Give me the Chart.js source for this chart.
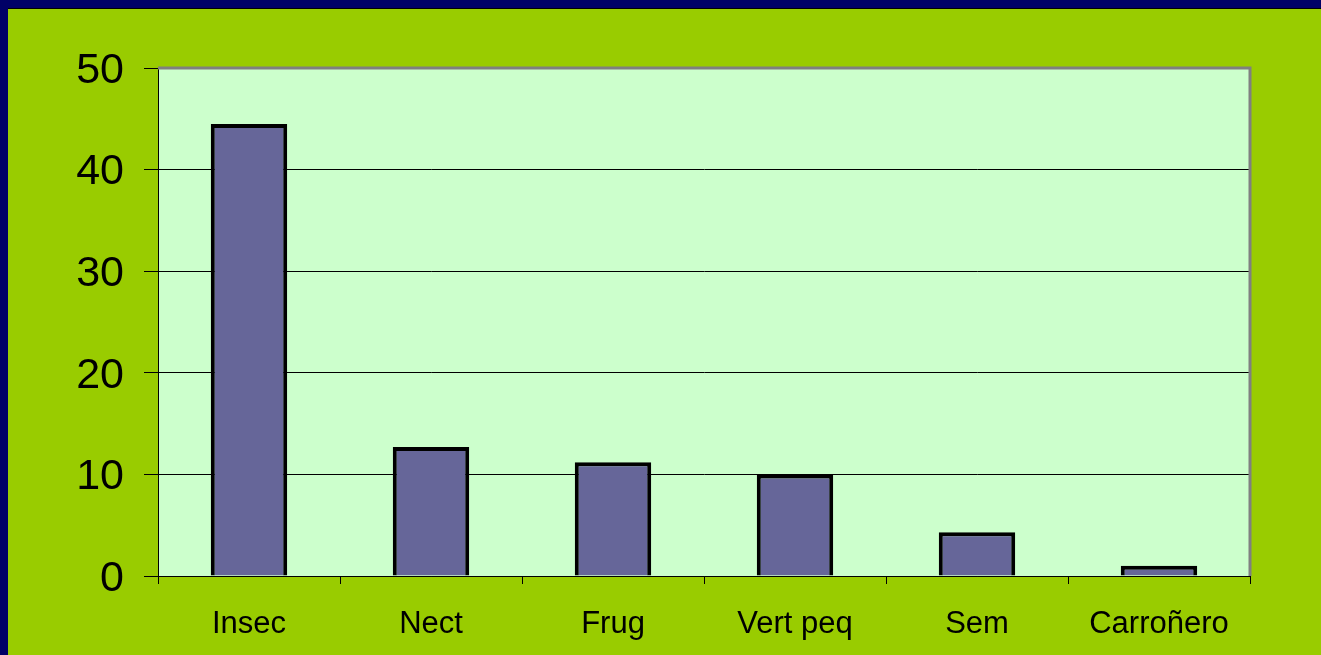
<!DOCTYPE html>
<html>
<head>
  <meta charset="utf-8">
  <title>Dieta</title>
  <script src="https://cdn.jsdelivr.net/npm/chart.js"></script>
  <style>
    html, body {
      margin: 0;
      padding: 0;
      background: #000066;
      overflow: hidden;
    }
    .container {
      position: absolute;
      left: 8px;
      top: 8px;
      width: 1313px;
      height: 647px;
      background: #99CC00;
      border-top: 1px solid #000000;
      box-sizing: border-box;
    }
  </style>
</head>
<body>
  <div class="container">
    <canvas id="chart_diet" width="1313" height="646"></canvas>
  </div>

  <script>
    const categories = ['Insec', 'Nect', 'Frug', 'Vert peq', 'Sem', 'Carroñero'];
    const values = [44.5, 12.7, 11.2, 10.0, 4.3, 1.0];
    const yTicks = [0, 10, 20, 30, 40, 50];

    // Light green plot area plus gray frame on top and right
    const plotFrame = {
      id: 'plotFrame',
      beforeDraw(chart) {
        const a = chart.chartArea;
        const ctx = chart.ctx;
        ctx.save();
        ctx.fillStyle = '#CCFFCC';
        ctx.fillRect(a.left, a.top, a.right - a.left, a.bottom - a.top);
        ctx.restore();
      },
      afterDraw(chart) {
        const a = chart.chartArea;
        const ctx = chart.ctx;
        ctx.save();
        ctx.strokeStyle = '#808080';
        ctx.lineWidth = 3;
        ctx.beginPath();
        ctx.moveTo(a.left, a.top);
        ctx.lineTo(a.right, a.top);
        ctx.lineTo(a.right, a.bottom);
        ctx.stroke();
        ctx.restore();
      }
    };

    const ctx = document.getElementById('chart_diet').getContext('2d');
    new Chart(ctx, {
      type: 'bar',
      data: {
        labels: categories,
        datasets: [{
          data: values,
          backgroundColor: '#666699',
          borderColor: '#000000',
          borderWidth: 4,
          barPercentage: 0.42,
          categoryPercentage: 1
        }]
      },
      options: {
        responsive: false,
        animation: false,
        layout: { padding: { left: 0, top: 59, right: 71, bottom: 0 } },
        plugins: {
          legend: { display: false },
          tooltip: { enabled: false }
        },
        scales: {
          x: {
            offset: true,
            grid: {
              offset: true,
              drawOnChartArea: false,
              drawTicks: true,
              tickLength: 8,
              tickColor: '#000000'
            },
            border: { display: true, color: '#000000', width: 1 },
            ticks: {
              color: '#000000',
              padding: 22,
              maxRotation: 0,
              font: { family: 'Liberation Sans, Arial', size: 31 }
            },
            afterFit(scale) { scale.height = 79; }
          },
          y: {
            min: 0,
            max: 50,
            afterBuildTicks(scale) {
              scale.ticks = yTicks.map(v => ({ value: v }));
            },
            grid: {
              color: '#000000',
              lineWidth: 1,
              drawTicks: true,
              tickLength: 14,
              tickColor: '#000000'
            },
            border: { display: true, color: '#000000', width: 1 },
            ticks: {
              color: '#000000',
              padding: 20,
              labelOffset: 3,
              font: { family: 'Liberation Sans, Arial', size: 43 }
            },
            afterFit(scale) { scale.width = 150; }
          }
        }
      },
      plugins: [plotFrame]
    });
  </script>
</body>
</html>
